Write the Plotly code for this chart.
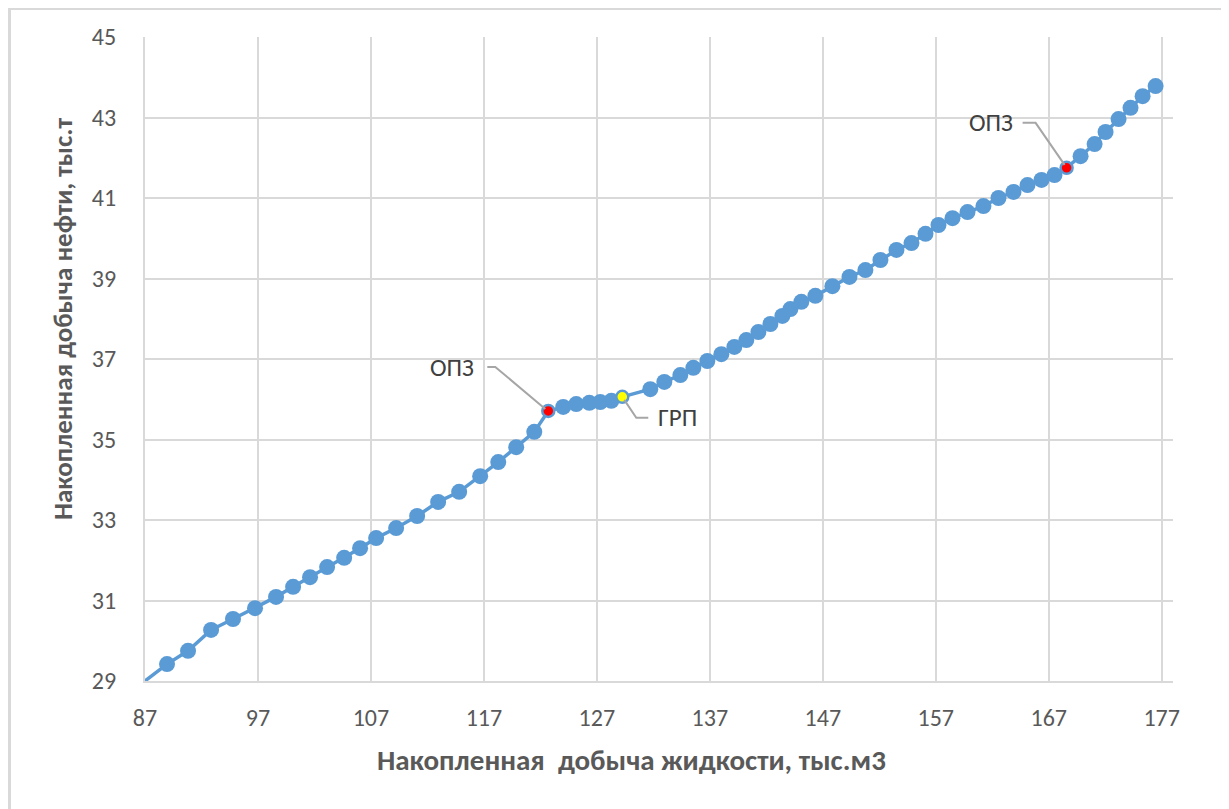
import plotly.graph_objects as go

# Cumulative liquid production, thousand m3
liquid = [86.9, 88.95, 90.81, 92.85, 94.79, 96.74, 98.60, 100.11, 101.61, 103.12, 104.63,
          106.04, 107.46, 109.23, 111.09, 112.95, 114.81, 116.67, 118.27, 119.86, 121.46,
          122.70, 124.02, 125.17, 126.33, 127.30, 128.28, 129.25, 131.73, 132.97, 134.39,
          135.54, 136.78, 138.02, 139.17, 140.23, 141.30, 142.36, 143.42, 144.13, 145.10,
          146.34, 147.85, 149.36, 150.77, 152.10, 153.52, 154.85, 156.09, 157.24, 158.48,
          159.81, 161.22, 162.55, 163.88, 165.12, 166.36, 167.51, 168.58, 169.82, 171.06,
          172.03, 173.18, 174.24, 175.31, 176.46]
# Cumulative oil production, thousand t
oil = [28.98, 29.42, 29.75, 30.27, 30.54, 30.81, 31.09, 31.34, 31.58, 31.83, 32.06,
       32.30, 32.55, 32.80, 33.10, 33.45, 33.70, 34.09, 34.44, 34.81, 35.19,
       35.71, 35.81, 35.88, 35.91, 35.93, 35.96, 36.06, 36.25, 36.43, 36.60,
       36.78, 36.95, 37.12, 37.30, 37.47, 37.67, 37.87, 38.07, 38.24, 38.42,
       38.57, 38.81, 39.04, 39.21, 39.46, 39.71, 39.88, 40.11, 40.33, 40.50,
       40.65, 40.80, 41.00, 41.15, 41.32, 41.45, 41.57, 41.75, 42.04, 42.34,
       42.64, 42.96, 43.24, 43.53, 43.78]

# Events (index into the series above and label)
event_idx = [21, 27, 58]
event_labels = ["ОПЗ", "ГРП", "ОПЗ"]
event_colors = ["#FF0000", "#FFFF00", "#FF0000"]

x_ticks = list(range(87, 178, 10))
y_ticks = list(range(29, 46, 2))

BLUE = "#5B9BD5"
GRID = "#D9D9D9"
FONT = "Calibri, Carlito, Lato, sans-serif"

n = len(liquid)
colors = [BLUE] * n
sizes = [16] * n
lcolors = [BLUE] * n
lwidths = [0] * n
sizes[0] = 0  # point outside the visible range: line only
for i, c in zip(event_idx, event_colors):
    colors[i] = c
    sizes[i] = 12
    lwidths[i] = 2.5

fig = go.Figure()
fig.add_trace(go.Scatter(
    x=liquid, y=oil, mode="lines+markers",
    line=dict(color=BLUE, width=3.5),
    marker=dict(color=colors, size=sizes, opacity=1,
                line=dict(color=lcolors, width=lwidths)),
    showlegend=False, hoverinfo="x+y"))

# Leader lines (pixel offsets relative to event points) and labels
leader_paths = [
    "M -61 44 L -53 44 L -3 2",
    "M 2 -3 L 14 -21 L 26 -21",
    "M -44 45 L -31 45 L -2 3",
]
label_shift = [(-96, 43), (55, -21), (-76, 45)]
for i, lab, p, (dx, dy) in zip(event_idx, event_labels, leader_paths, label_shift):
    fig.add_shape(type="path", xref="x", yref="y",
                  xsizemode="pixel", ysizemode="pixel",
                  xanchor=liquid[i], yanchor=oil[i], path=p,
                  line=dict(color="#A6A6A6", width=2))
    fig.add_annotation(x=liquid[i], y=oil[i], text=lab, showarrow=False,
                       xshift=dx, yshift=dy, xanchor="center", yanchor="middle",
                       font=dict(family=FONT, size=25, color="#404040"))

# Axis titles
fig.add_annotation(xref="paper", yref="paper", x=0.473, y=-0.1227,
                   text="<b>Накопленная\u00a0 добыча жидкости, тыс.м3</b>",
                   showarrow=False, xanchor="center", yanchor="middle",
                   font=dict(family=FONT, size=29, color="#595959"))
fig.add_annotation(xref="paper", yref="paper", x=-0.0807, y=0.562,
                   text="<b>Накопленная добыча нефти, тыс.т</b>", textangle=-90,
                   showarrow=False, xanchor="center", yanchor="middle",
                   font=dict(family=FONT, size=27, color="#595959"))

# Chart border
fig.add_shape(type="rect", xref="paper", yref="paper",
              x0=-0.1318, x1=1.0506, y0=-0.21, y1=1.0443,
              line=dict(color=GRID, width=3), fillcolor="rgba(0,0,0,0)", layer="below")

fig.update_xaxes(range=[87, 178], tickvals=x_ticks, ticktext=[str(v) for v in x_ticks],
                 showgrid=True, gridcolor=GRID, gridwidth=2,
                 showline=True, linecolor=GRID, linewidth=2, zeroline=False,
                 ticks="", ticklabelstandoff=14,
                 tickfont=dict(family=FONT, size=24, color="#595959"))
fig.update_yaxes(range=[29, 45], tickvals=y_ticks, ticktext=[str(v) for v in y_ticks],
                 showgrid=True, gridcolor=GRID, gridwidth=2,
                 showline=True, linecolor=GRID, linewidth=2, zeroline=False,
                 ticks="", ticklabelstandoff=22,
                 tickfont=dict(family=FONT, size=24, color="#595959"))

# the page body adds an 8 px offset, so the figure is 8 px smaller
fig.update_layout(width=1221, height=801,
                  margin=dict(l=137, r=56, t=29, b=128),
                  paper_bgcolor="white", plot_bgcolor="white",
                  font=dict(family=FONT))

fig.write_html("out.html")
